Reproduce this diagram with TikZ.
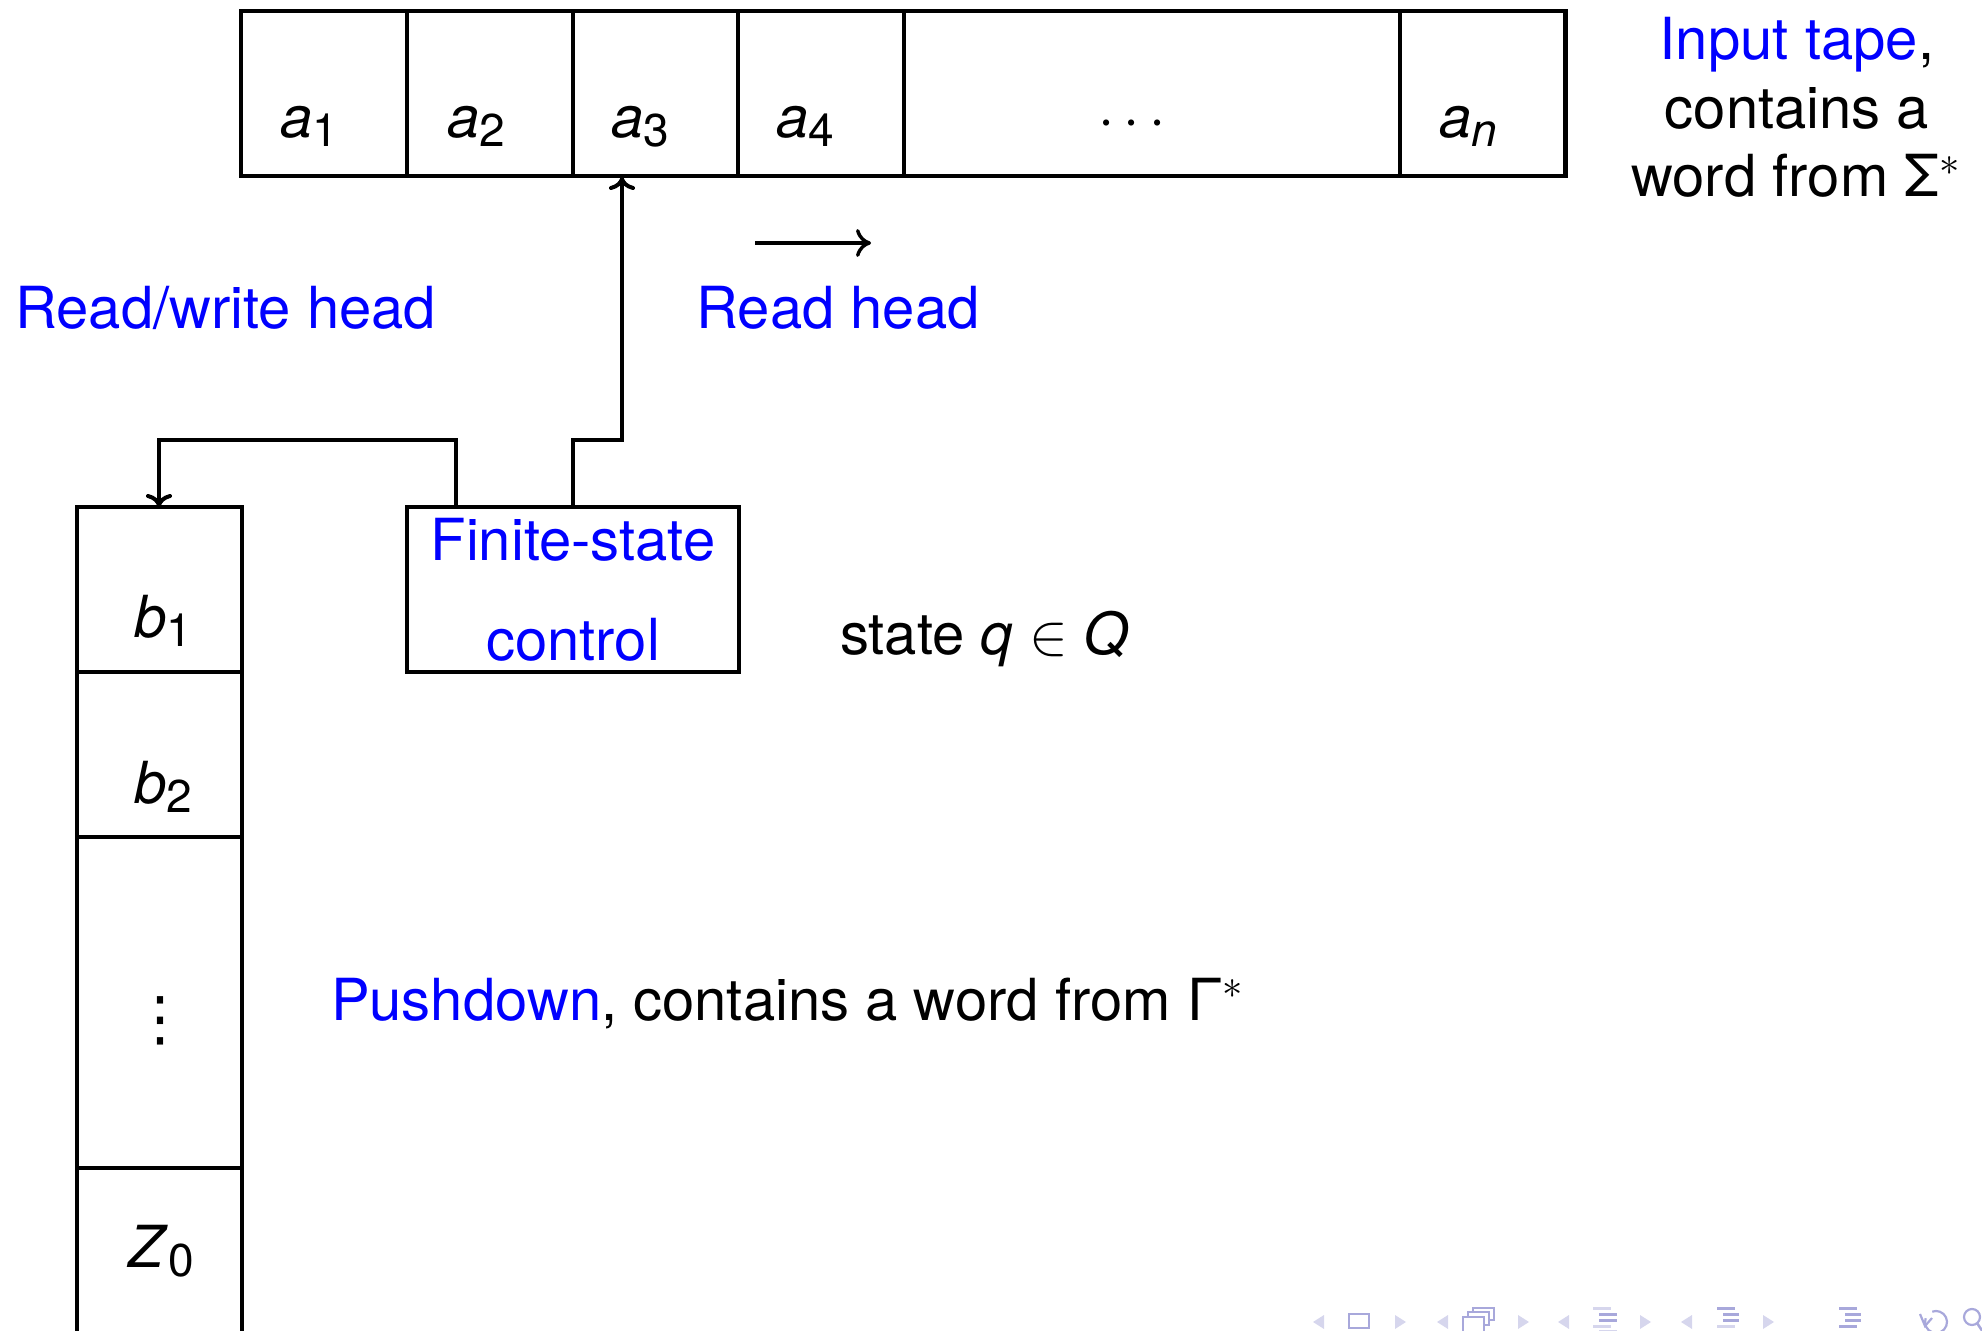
\documentclass[tikz,border=0pt]{standalone}
\usepackage{fix-cm}
\usepackage{fontspec}
\setmainfont{TeX Gyre Heros}
\newfontfamily\dvsans{DejaVu Sans}
\usetikzlibrary{arrows.meta}
\definecolor{navlight}{rgb}{0.84,0.84,0.93}
\definecolor{navdark}{rgb}{0.66,0.66,0.86}
\newcommand\mysub[1]{\raisebox{-4.5pt}{\fontsize{23}{23}\selectfont #1}}
\begin{document}
\begin{tikzpicture}[x=0.5pt,y=-0.5pt,
  txt/.style={font=\fontsize{29}{35}\selectfont, inner sep=0pt, outer sep=0pt},
  lbl/.style={txt, anchor=base},
  cellbox/.style={draw, line width=2pt, inner sep=0pt, outer sep=0pt, anchor=north west, minimum height=82.5pt},
  conn/.style={line width=2pt},
  arr/.style={conn, -{To[length=6.5pt,width=13pt]}},
]
\useasboundingbox (0,0) rectangle (1982,1331);

% input tape
\node[cellbox, minimum width=83pt] (t1) at (241,11) {};
\node[cellbox, minimum width=82.75pt] (t2) at (t1.north east) {};
\node[cellbox, minimum width=82.75pt] (t3) at (t2.north east) {};
\node[cellbox, minimum width=82.75pt] (t4) at (t3.north east) {};
\node[cellbox, minimum width=248pt] (t5) at (t4.north east) {};
\node[cellbox, minimum width=83pt] (t6) at (t5.north east) {};
\draw[line width=2.4pt] (t1.north west) rectangle (t6.south east);

\node[lbl] (la1) at (309,138) {\textit{a}\mysub{1}};
\node[lbl] (la2) at (476,138) {\textit{a}\mysub{2}};
\node[lbl] (la3) at (640,138) {\textit{a}\mysub{3}};
\node[lbl] (la4) at (805,138) {\textit{a}\mysub{4}};
\node[lbl] (ldots) at (1132,138) {$\cdots$};
\node[lbl] (lan) at (1468,138) {\textit{a}\mysub{\textit{n}}};

% right description
\node[lbl] (in1) at (1797,60) {\textcolor{blue}{Input tape},};
\node[lbl] (in2) at (1797,128.5) {contains a};
\node[lbl] (in3) at (1796,197) {word from Σ$^{*}$};

% heads
\coordinate (ms) at (755,243);
\coordinate (me) at (871,243);
\draw[line width=1.7pt, -{To[length=7.5pt,width=14pt]}] (ms) -- (me);
\node[lbl, text=blue] (rw) at (225.7,329) {Read/write head};
\node[lbl, text=blue] (rh) at (838,329) {Read head};

% finite state control
\node[cellbox, minimum width=165.75pt] (fsc) at (407,507) {};
\node[lbl, text=blue] (f1) at (573,561) {Finite-state};
\node[lbl, text=blue] (f2) at (573,661) {control};
\node[lbl, anchor=base west] (st) at (840,655) {state \textit{q} $\in$ \textit{Q}};

% pushdown
\node[cellbox, minimum width=82.5pt] (s1) at (76.5,507) {};
\node[cellbox, minimum width=82.5pt] (s2) at (s1.south west) {};
\node[cellbox, minimum width=82.5pt, minimum height=165.5pt] (s3) at (s2.south west) {};
\node[cellbox, minimum width=82.5pt, minimum height=95pt] (s4) at (s3.south west) {};

\node[lbl] (lb1) at (163,638) {\textit{b}\mysub{1}};
\node[lbl] (lb2) at (163,804) {\textit{b}\mysub{2}};
\node[txt] (lvd) at (160,1021) {\dvsans\fontsize{30}{30}\selectfont ⋮};
\node[lbl] (lz0) at (161,1267) {\textit{Z}\mysub{0}};

\node[lbl, anchor=base west] (pd) at (331,1020) {\textcolor{blue}{Pushdown}, contains a word from Γ$^{*}$};

% connectors
\coordinate (hit) at (622,177);
\coordinate (fscl) at (456,507);
\draw[arr] (fsc.north) -- ++(0,-67) -| (hit);
\draw[arr] (fscl) -- ++(0,-67) -| (s1.north);

% navigation symbols
\foreach \x in {1313,1437,1558,1681}
  \fill[navlight] (\x+11,1315) -- (\x,1322) -- (\x+11,1329) -- cycle;
\foreach \x in {1395,1518,1640,1763}
  \fill[navlight] (\x,1315) -- (\x+11,1322) -- (\x,1329) -- cycle;
\draw[navdark, line width=1.1pt] (1349,1314) rectangle (1369,1328);
\filldraw[fill=white, draw=navdark, line width=1pt] (1473,1308) rectangle (1494,1320);
\filldraw[fill=white, draw=navdark, line width=1pt] (1468,1312) rectangle (1489,1325);
\filldraw[fill=white, draw=navdark, line width=1pt] (1463,1317) rectangle (1484,1336);
\fill[navlight] (1593,1307) rectangle (1611,1310);
\fill[navdark] (1599,1313) rectangle (1617,1316);
\fill[navdark] (1599,1319) rectangle (1617,1322);
\fill[navlight] (1593,1325) rectangle (1611,1328);
\fill[navlight] (1599,1330) rectangle (1617,1333);
\fill[navdark] (1717,1307) rectangle (1735,1310);
\fill[navdark] (1723,1313) rectangle (1739,1316);
\fill[navdark] (1723,1319) rectangle (1739,1322);
\fill[navlight] (1717,1325) rectangle (1735,1328);
\fill[navdark] (1839,1307) rectangle (1857,1310);
\fill[navdark] (1845,1313) rectangle (1861,1316);
\fill[navdark] (1845,1319) rectangle (1861,1322);
\fill[navdark] (1839,1325) rectangle (1857,1328);
\draw[navdark, line width=1.1pt] (1936,1322) ++(200:11) arc[start angle=200, end angle=-110, radius=11];
\draw[navdark, line width=1.1pt] (1920,1314) -- (1925,1326) -- (1932,1318);
\draw[navdark, line width=1.1pt] (1972,1317) circle[radius=8];
\draw[navdark, line width=1.3pt] (1977,1323) -- (1983,1332);
\end{tikzpicture}
\end{document}
